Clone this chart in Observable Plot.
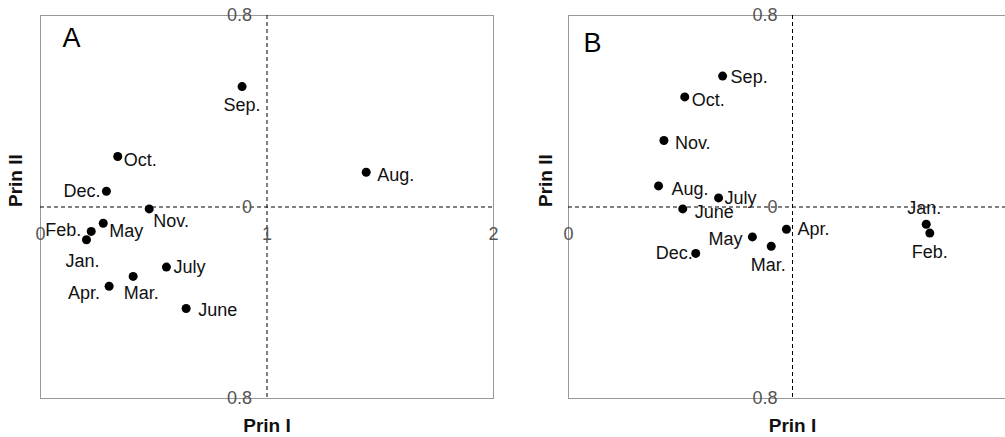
<!DOCTYPE html>
<html>
<head>
<meta charset="utf-8">
<script src="https://cdn.jsdelivr.net/npm/d3@7"></script>
<script src="https://cdn.jsdelivr.net/npm/@observablehq/plot@0.6"></script>
<style>
  html, body { margin: 0; padding: 0; background: #fff; }
  body { width: 1005px; height: 437px; overflow: hidden; }
  #wrap { display: flex; width: 1005px; height: 437px; overflow: hidden; }
  #wrap svg { flex: none; display: block; }
</style>
</head>
<body>
<div id="wrap"></div>
<script>
// ---- Data ----
const monthsA = ["Jan.", "Feb.", "Mar.", "Apr.", "May", "June", "July", "Aug.", "Sep.", "Oct.", "Nov.", "Dec."];
const prinIA  = [0.203, 0.224, 0.409, 0.303, 0.277, 0.643, 0.556, 1.438, 0.890, 0.341, 0.480, 0.291];
const prinIIA = [-0.137, -0.102, -0.290, -0.331, -0.068, -0.424, -0.251, 0.145, 0.503, 0.211, -0.008, 0.066];

const monthsB = ["Jan.", "Feb.", "Mar.", "Apr.", "May", "June", "July", "Aug.", "Sep.", "Oct.", "Nov.", "Dec."];
const prinIB  = [1.597, 1.613, 0.905, 0.973, 0.821, 0.510, 0.670, 0.402, 0.688, 0.519, 0.426, 0.568];
const prinIIB = [-0.072, -0.109, -0.164, -0.093, -0.125, -0.008, 0.038, 0.088, 0.547, 0.460, 0.278, -0.194];

const xTickValuesA = [0, 1, 2];
const xTickLabelsA = ["0", "1", "2"];
const xTickValuesB = [0];
const xTickLabelsB = ["0"];
const yTickValues = [0.8, 0, -0.8];
const yTickLabels = ["0.8", "0", "0.8"];

// ---- Label placement (styling) ----
const offsetsA = {
  "Sep.": {dx: 0, dy: 19, textAnchor: "middle"},
  "Aug.": {dx: 11, dy: 3, textAnchor: "start"},
  "Oct.": {dx: 6, dy: 4, textAnchor: "start"},
  "Dec.": {dx: -6, dy: 0, textAnchor: "end"},
  "Nov.": {dx: 4, dy: 12, textAnchor: "start"},
  "May":  {dx: 6, dy: 8, textAnchor: "start"},
  "Feb.": {dx: -10, dy: -1, textAnchor: "end"},
  "Jan.": {dx: -4, dy: 21, textAnchor: "middle"},
  "July": {dx: 7, dy: 0, textAnchor: "start"},
  "Mar.": {dx: 8, dy: 17, textAnchor: "middle"},
  "Apr.": {dx: -9, dy: 7, textAnchor: "end"},
  "June": {dx: 12, dy: 2, textAnchor: "start"}
};
const offsetsB = {
  "Sep.": {dx: 8, dy: 1, textAnchor: "start"},
  "Oct.": {dx: 7, dy: 3, textAnchor: "start"},
  "Nov.": {dx: 11, dy: 3, textAnchor: "start"},
  "Aug.": {dx: 13, dy: 3, textAnchor: "start"},
  "July": {dx: 6, dy: 0, textAnchor: "start"},
  "June": {dx: 12, dy: 3, textAnchor: "start"},
  "Apr.": {dx: 11, dy: 0, textAnchor: "start"},
  "May":  {dx: -10, dy: 2, textAnchor: "end"},
  "Mar.": {dx: -3, dy: 19, textAnchor: "middle"},
  "Dec.": {dx: -3, dy: 0, textAnchor: "end"},
  "Jan.": {dx: -2, dy: -16, textAnchor: "middle"},
  "Feb.": {dx: 0, dy: 19, textAnchor: "middle"}
};

const FONT = "'Liberation Sans', Arial, Helvetica, sans-serif";

function panel({labels, xs, ys, offsets, xTicks, xTickLabels, letter, letterDx, letterDy, width, marginLeft, marginRight, titleDx}) {
  const rows = labels.map((m, i) => ({month: m, x: xs[i], y: ys[i]}));
  return Plot.plot({
    width,
    height: 437,
    marginLeft,
    marginRight,
    marginTop: 15,
    marginBottom: 39,
    x: {domain: [0, 2], axis: null},
    y: {domain: [-0.8, 0.8], axis: null},
    style: {fontFamily: FONT, background: "#fff", overflow: "visible"},
    marks: [
      Plot.frame({stroke: "#999", strokeWidth: 1}),
      Plot.ruleX([1], {stroke: "#000", strokeWidth: 1, strokeDasharray: "4,3"}),
      Plot.ruleY([0], {stroke: "#000", strokeWidth: 1, strokeDasharray: "4,3"}),
      Plot.text(yTickValues, {x: 1, y: d => d, text: (d, i) => yTickLabels[i], textAnchor: "end", lineAnchor: "middle", dx: -15, fontSize: 18, fill: "#555"}),
      Plot.text(xTicks, {x: d => d, y: 0, text: (d, i) => xTickLabels[i], lineAnchor: "middle", dy: 27, fontSize: 18, fill: "#555"}),
      Plot.dot(rows, {x: "x", y: "y", r: 4.5, fill: "#000", stroke: "none"}),
      ...rows.map(r => Plot.text([r], {x: "x", y: "y", text: "month", lineAnchor: "middle", fontSize: 18, fill: "#111", ...offsets[r.month]})),
      Plot.text([letter], {frameAnchor: "top-left", textAnchor: "start", lineAnchor: "middle", dx: letterDx, dy: letterDy, fontSize: 27, fill: "#000"}),
      Plot.text(["Prin I"], {x: 1, frameAnchor: "bottom", lineAnchor: "middle", dy: 27, fontSize: 19, fontWeight: "bold", fill: "#111"}),
      Plot.text(["Prin II"], {frameAnchor: "left", lineAnchor: "middle", dx: titleDx, rotate: -90, fontSize: 19, fontWeight: "bold", fill: "#111"})
    ]
  });
}

const wrap = document.getElementById("wrap");
wrap.appendChild(panel({
  labels: monthsA, xs: prinIA, ys: prinIIA, offsets: offsetsA,
  xTicks: xTickValuesA, xTickLabels: xTickLabelsA,
  letter: "A", letterDx: 22, letterDy: 23,
  width: 505, marginLeft: 40, marginRight: 12, titleDx: -25
}));
wrap.appendChild(panel({
  labels: monthsB, xs: prinIB, ys: prinIIB, offsets: offsetsB,
  xTicks: xTickValuesB, xTickLabels: xTickLabelsB,
  letter: "B", letterDx: 15, letterDy: 28,
  width: 520, marginLeft: 63, marginRight: 9, titleDx: -23
}));
</script>
</body>
</html>
